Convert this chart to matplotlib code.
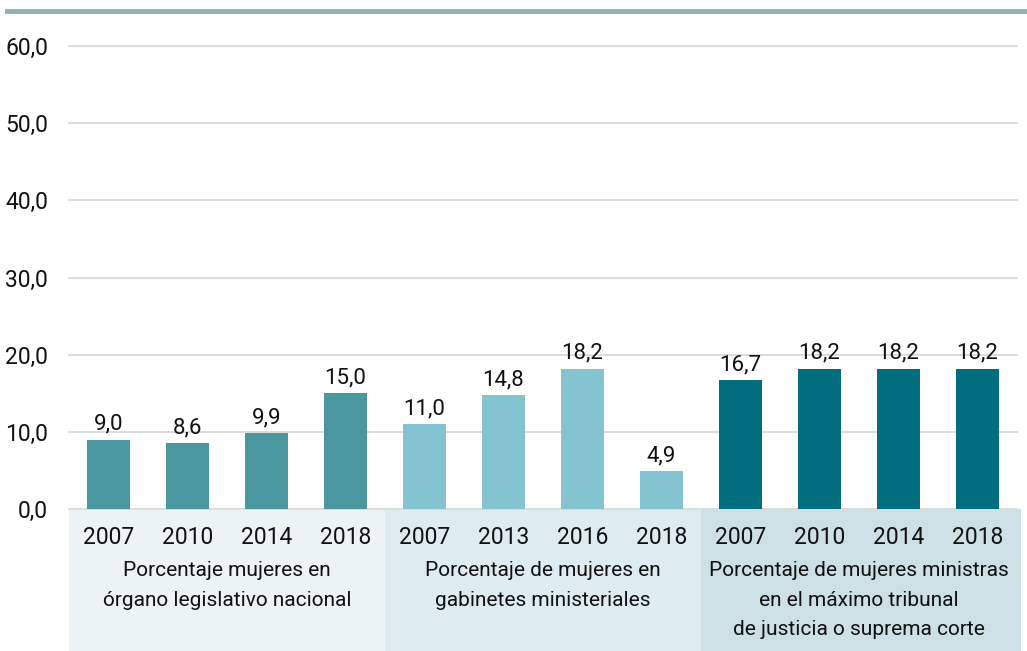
import matplotlib.pyplot as plt
from matplotlib.patches import Rectangle
from matplotlib.lines import Line2D

plt.rcParams['font.family'] = ['Roboto', 'DejaVu Sans']

# Data
years = ['2007', '2010', '2014', '2018',
         '2007', '2013', '2016', '2018',
         '2007', '2010', '2014', '2018']
legislativo = [9.0, 8.6, 9.9, 15.0]
gabinetes = [11.0, 14.8, 18.2, 4.9]
justicia = [16.7, 18.2, 18.2, 18.2]
group_labels = ['Porcentaje mujeres en\nórgano legislativo nacional',
                'Porcentaje de mujeres en\ngabinetes ministeriales',
                'Porcentaje de mujeres ministras\nen el máximo tribunal\nde justicia o suprema corte']
bar_colors = ['#4a979f', '#84c4d1', '#006e7f']
panel_colors = ['#ebf3f5', '#deecf1', '#cde0e6']

W, H = 1027, 651
fig = plt.figure(figsize=(W / 100, H / 100), dpi=100)
ax = fig.add_axes([69 / W, 142 / H, 948 / W, 463 / H])

# top rule
fig.add_artist(Line2D([7 / W, 1], [640 / H, 640 / H], color='#8fb0ae', lw=3.5,
                      transform=fig.transFigure))

series = [legislativo, gabinetes, justicia]
for g, vals in enumerate(series):
    xs = [g * 4 + i for i in range(len(vals))]
    ax.bar(xs, vals, width=0.545, color=bar_colors[g], zorder=3)
    for x, v in zip(xs, vals):
        ax.text(x, v + 0.6, f'{v:.1f}'.replace('.', ','), ha='center', va='bottom',
                fontsize=16, color='#111111')
    # category panel below the axis
    x0 = g * 4 - 0.5
    width = 4.0 if g < 2 else 4.05
    ax.add_patch(Rectangle((x0, -0.31), width, 0.31, transform=ax.get_xaxis_transform(),
                           facecolor=panel_colors[g], edgecolor='none', clip_on=False,
                           zorder=0))
    ax.text(g * 4 + 1.5, -0.113, group_labels[g], transform=ax.get_xaxis_transform(),
            ha='center', va='top', fontsize=15, linespacing=1.68, color='#111111')

ax.set_xlim(-0.5, 11.5)
ax.set_ylim(0, 60)
ax.set_yticks([0, 10, 20, 30, 40, 50, 60])
ax.set_yticklabels([f'{t:.1f}'.replace('.', ',') for t in [0, 10, 20, 30, 40, 50, 60]])
ax.set_xticks(range(12))
ax.set_xticklabels(years)
ax.tick_params(axis='both', length=0, colors='#111111')
ax.tick_params(axis='x', pad=12, labelsize=16.5)
ax.tick_params(axis='y', pad=15, labelsize=16.5)
ax.grid(axis='y', color='#d9d9d9', lw=1.3, zorder=0)
for gl in ax.get_ygridlines():
    gl.set_clip_on(False)
for s in ax.spines.values():
    s.set_visible(False)

fig.savefig('out.png', dpi=100)
